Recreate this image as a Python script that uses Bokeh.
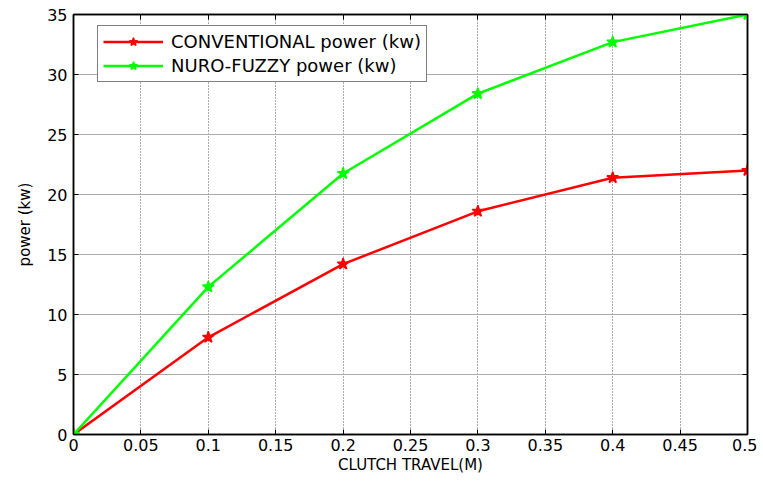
from bokeh.plotting import figure
from bokeh.models import Range1d, LinearAxis, FixedTicker, Legend, LegendItem
from bokeh.embed import file_html
from bokeh.resources import INLINE

clutch_travel = [0.0, 0.1, 0.2, 0.3, 0.4, 0.5]
conventional_power = [0.0, 8.1, 14.2, 18.6, 21.4, 22.0]
nurofuzzy_power = [0.0, 12.3, 21.75, 28.4, 32.7, 35.0]
x_ticks = [0, 0.05, 0.1, 0.15, 0.2, 0.25, 0.3, 0.35, 0.4, 0.45, 0.5]
y_ticks = [0, 5, 10, 15, 20, 25, 30, 35]

FONT = "DejaVu Sans"

p = figure(width=757, height=478, output_backend="svg", toolbar_location=None,
           x_range=Range1d(0, 0.5), y_range=Range1d(0, 35),
           min_border_left=73, min_border_top=14, min_border_right=10, min_border_bottom=44)
p.outline_line_color = "black"
p.outline_line_width = 1.5

for ax in (p.xaxis[0], p.yaxis[0]):
    ax.major_tick_in = 5
    ax.major_tick_out = 0
    ax.minor_tick_line_color = None
    ax.axis_line_color = "black"
    ax.axis_line_width = 1.5
    ax.major_label_text_font = FONT
    ax.major_label_text_font_size = "16px"
    ax.major_label_text_color = "black"
    ax.axis_label_text_font = FONT
    ax.axis_label_text_font_size = "15px"
    ax.axis_label_text_font_style = "normal"
    ax.axis_label_text_color = "black"

p.xaxis.ticker = FixedTicker(ticks=x_ticks)
p.yaxis.ticker = FixedTicker(ticks=y_ticks)
p.xaxis.major_label_overrides = {0: "0", 0.5: "0.5"}
p.xaxis.axis_label = "CLUTCH TRAVEL(M)"
p.yaxis.axis_label = "power (kw)"
p.xaxis.axis_label_standoff = 2
p.yaxis.axis_label_standoff = 10
p.xaxis.major_label_standoff = 4
p.yaxis.major_label_standoff = 6

top = LinearAxis(ticker=FixedTicker(ticks=x_ticks),
                 major_label_overrides={t: "" for t in x_ticks},
                 major_tick_in=5, major_tick_out=0, minor_tick_line_color=None,
                 axis_line_color="black", axis_line_width=1.5, major_label_standoff=0)
right = LinearAxis(ticker=FixedTicker(ticks=y_ticks),
                   major_label_overrides={t: "" for t in y_ticks},
                   major_tick_in=5, major_tick_out=0, minor_tick_line_color=None,
                   axis_line_color="black", axis_line_width=1.5, major_label_standoff=0)
p.add_layout(top, "above")
p.add_layout(right, "right")

p.xgrid.ticker = FixedTicker(ticks=x_ticks)
p.ygrid.ticker = FixedTicker(ticks=y_ticks)
p.xgrid.grid_line_color = "#555555"
p.xgrid.grid_line_dash = "1 2"
p.xgrid.grid_line_width = 1
p.ygrid.grid_line_color = "#aaaaaa"
p.ygrid.grid_line_dash = "solid"
p.ygrid.grid_line_width = 1

l1 = p.line(clutch_travel, conventional_power, line_color="red", line_width=2.5)
m1 = p.scatter(clutch_travel, conventional_power, marker="star", size=12,
               fill_color="red", line_color="red", line_width=1.5)
l2 = p.line(clutch_travel, nurofuzzy_power, line_color="#00ff00", line_width=2.5)
m2 = p.scatter(clutch_travel, nurofuzzy_power, marker="star", size=12,
               fill_color="#00ff00", line_color="#00ff00", line_width=1.5)

legend = Legend(items=[LegendItem(label="CONVENTIONAL power (kw)", renderers=[l1, m1]),
                       LegendItem(label="NURO-FUZZY power (kw)", renderers=[l2, m2])],
                location=(24, 352))
legend.border_line_color = "black"
legend.border_line_width = 1.5
legend.label_text_font = FONT
legend.label_text_font_size = "18px"
legend.label_text_color = "black"
legend.glyph_width = 60
legend.glyph_height = 21
legend.label_height = 21
legend.spacing = 3
legend.padding = 5
legend.margin = 0
legend.label_standoff = 8
legend.background_fill_alpha = 1
p.add_layout(legend, "center")

open("out.html", "w").write(file_html(p, INLINE))
